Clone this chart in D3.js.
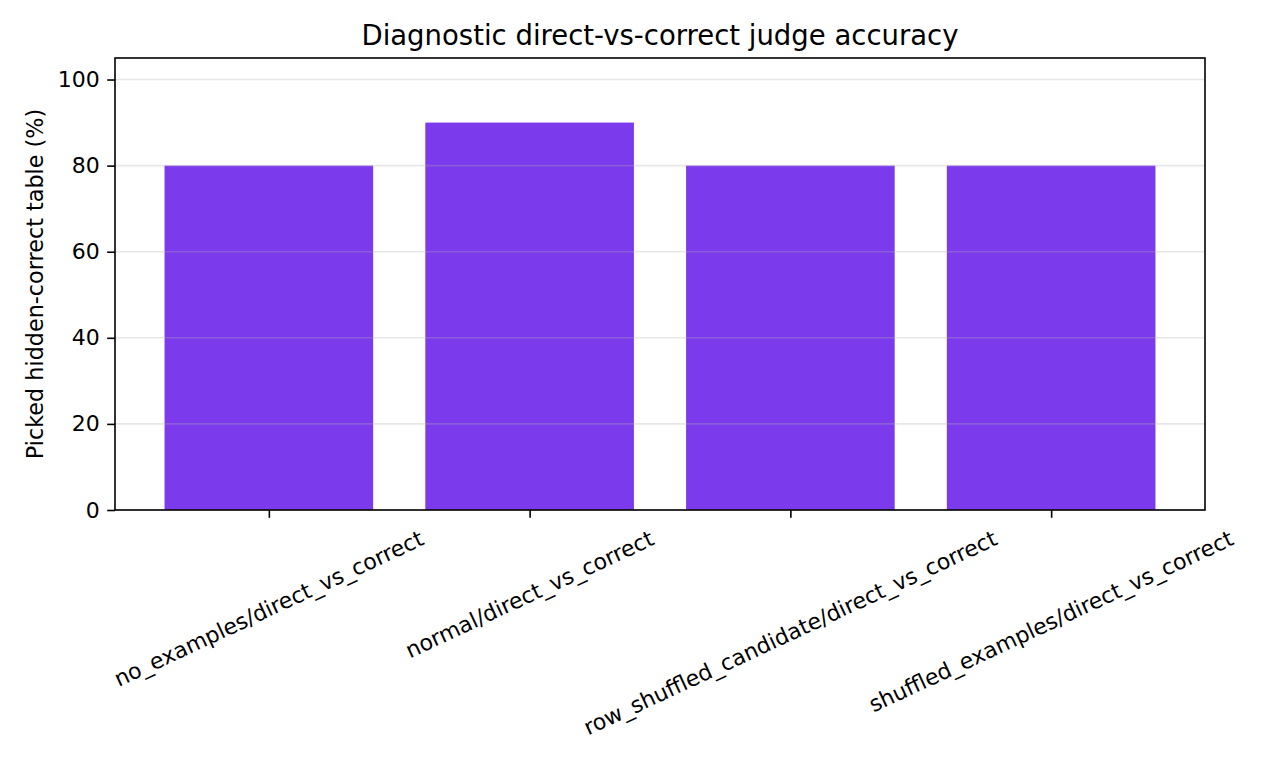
<!DOCTYPE html>
<html>
<head>
<meta charset="utf-8">
<script src="https://cdn.jsdelivr.net/npm/d3@7"></script>
<style>
  body { margin: 0; background: #fff; }
  text { font-family: "DejaVu Sans", sans-serif; fill: #000; }
</style>
</head>
<body>
<div id="chart"></div>
<script>
// values
let categories = ["no_examples/direct_vs_correct", "normal/direct_vs_correct",
                  "row_shuffled_candidate/direct_vs_correct", "shuffled_examples/direct_vs_correct"];
let accuracy = [80, 90, 80, 80];
let yTicks = [0, 20, 40, 60, 80, 100];

let titleText = "Diagnostic direct-vs-correct judge accuracy";
let yLabelText = "Picked hidden-correct table (%)";

function init() {
  // axes box in pixels
  let margin = {top: 58, right: 75, bottom: 258, left: 115},
      W = 1280, H = 768,
      width = W - margin.left - margin.right,
      height = H - margin.top - margin.bottom;

  let svg = d3.select("#chart")
    .append("svg")
      .attr("width", W)
      .attr("height", H);

  let g = svg.append("g")
      .attr("transform", "translate(" + margin.left + "," + margin.top + ")");

  // x is the category index, with matplotlib's 5% margins around the bars
  let x = d3.scaleLinear()
    .domain([-0.59, categories.length - 1 + 0.59])
    .range([0, width]);

  let y = d3.scaleLinear()
    .domain([0, 105])
    .range([height, 0]);

  let barW = x(0.4) - x(-0.4);

  // bars
  g.append("g")
    .selectAll("rect")
    .data(accuracy)
    .enter()
    .append("rect")
      .attr("x", (d, i) => x(i) - barW / 2)
      .attr("y", d => y(d))
      .attr("width", barW)
      .attr("height", d => y(0) - y(d))
      .style("fill", "#7c3aed");

  // horizontal grid, drawn over the bars
  g.append("g")
    .selectAll("line")
    .data(yTicks)
    .enter()
    .append("line")
      .attr("x1", 0)
      .attr("x2", width)
      .attr("y1", d => y(d))
      .attr("y2", d => y(d))
      .style("stroke", "#b0b0b0")
      .style("stroke-opacity", 0.3)
      .style("stroke-width", 1.6);

  // y axis
  let yAxis = g.append("g")
    .call(d3.axisLeft(y).tickValues(yTicks).tickSize(7.8).tickPadding(7.5));
  yAxis.select(".domain").remove();
  yAxis.selectAll("line").style("stroke", "#000").style("stroke-width", 1.6);
  yAxis.selectAll("text")
    .style("font-size", "22px")
    .style("font-family", "DejaVu Sans");

  // x axis, labels placed by hand below
  let xAxis = g.append("g")
    .attr("transform", "translate(0," + height + ")")
    .call(d3.axisBottom(x).tickValues(d3.range(categories.length)).tickSize(7.8).tickFormat(""));
  xAxis.select(".domain").remove();
  xAxis.selectAll("line").style("stroke", "#000").style("stroke-width", 1.6);

  // rotated tick labels (25 deg, centred under the tick, top of box aligned)
  let rot = 25 * Math.PI / 180;
  let fs = 22;
  let labels = g.append("g")
    .selectAll("text")
    .data(categories)
    .enter()
    .append("text")
      .text(d => d)
      .style("font-size", fs + "px")
      .attr("text-anchor", "middle")
      .attr("dominant-baseline", "central");
  labels.each(function(d, i) {
    let L = this.getComputedTextLength();
    let h = fs * 1.16;
    let boxH = L * Math.sin(rot) + h * Math.cos(rot);
    let cx = x(i), cy = height + 7.8 + 7.8 + boxH / 2;
    d3.select(this)
      .attr("x", cx).attr("y", cy)
      .attr("transform", "rotate(-25," + cx + "," + cy + ")");
  });

  // frame
  g.append("rect")
    .attr("x", 0).attr("y", 0)
    .attr("width", width).attr("height", height)
    .style("fill", "none")
    .style("stroke", "#000")
    .style("stroke-width", 1.6);

  // title
  svg.append("text")
    .attr("x", margin.left + width / 2)
    .attr("y", 45)
    .attr("text-anchor", "middle")
    .style("font-size", "27.5px")
    .text(titleText);

  // y label
  svg.append("text")
    .attr("transform", "translate(43," + (margin.top + height / 2) + ") rotate(-90)")
    .attr("text-anchor", "middle")
    .style("font-size", "22.3px")
    .text(yLabelText);
}

init();
</script>
</body>
</html>
